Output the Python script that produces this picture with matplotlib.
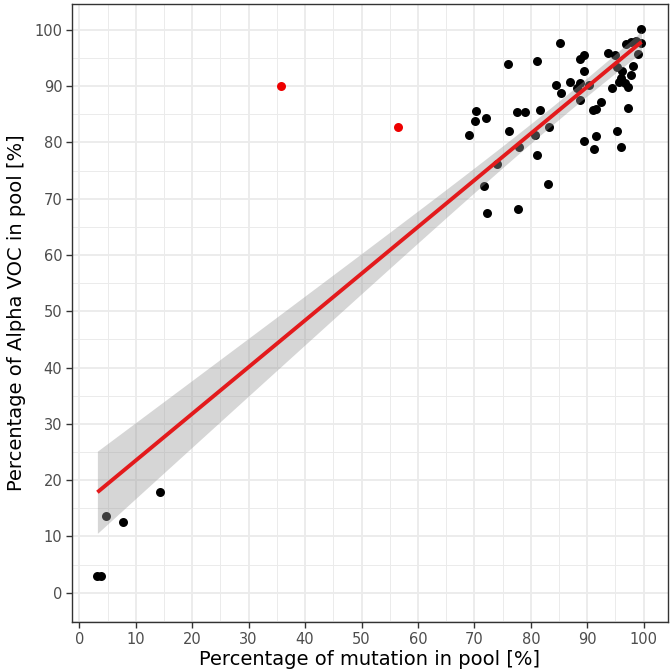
import numpy as np
import matplotlib
matplotlib.use("Agg")
import matplotlib.pyplot as plt

# Black points
x_mut = [3.2, 3.9, 4.8, 7.8, 14.3,
         69.1, 70.1, 70.3, 72.0, 71.7, 72.2, 74.0, 76.2, 75.9, 77.5, 78.9, 77.9, 77.7,
         80.8, 81.1, 81.1, 81.6, 83.2, 83.1, 84.5, 85.3, 85.1, 87.0, 88.1, 88.7, 88.7,
         88.7, 89.4, 89.4, 90.3, 89.4, 91.5, 91.2, 92.5, 91.6, 91.0, 93.6, 94.4, 94.9,
         95.2, 96.2, 95.2, 96.0, 95.7, 96.6, 97.2, 97.3, 96.0, 96.9, 97.8, 98.7, 99.6,
         99.0, 98.1, 97.8, 99.6]
y_voc = [3.0, 3.0, 13.6, 12.5, 17.9,
         81.4, 83.8, 85.6, 84.3, 72.2, 67.5, 76.1, 82.0, 93.9, 85.5, 85.5, 79.2, 68.2,
         81.4, 94.5, 77.7, 85.8, 82.7, 72.6, 90.2, 88.8, 97.6, 90.7, 89.6, 90.5, 87.5,
         94.8, 95.5, 92.7, 90.2, 80.2, 81.1, 78.8, 87.2, 86.0, 85.8, 95.9, 89.6, 95.5,
         93.4, 92.7, 82.0, 91.4, 90.8, 90.5, 89.9, 86.1, 79.2, 97.5, 97.8, 98.1, 97.7,
         95.8, 93.6, 92.0, 100.1]
# Red outliers
x_out = [35.8, 56.5]
y_out = [90.0, 82.7]

# Fitted regression
fit_intercept = 15.2
fit_slope = 0.83
ci_center_x = 88.0     # x where the confidence band is narrowest
ci_min_half = 1.6      # half-width there
ci_start_half = 7.3    # half-width at the lowest x

xticks = list(range(0, 101, 10))
yticks = list(range(0, 101, 10))
xlabel = "Percentage of mutation in pool [%]"
ylabel = "Percentage of Alpha VOC in pool [%]"

x = np.array(x_mut)
y = np.array(y_voc)
xs = np.linspace(x.min(), x.max(), 120)
yhat = fit_intercept + fit_slope * xs
k2 = (ci_start_half ** 2 - ci_min_half ** 2) / (x.min() - ci_center_x) ** 2
half = np.sqrt(ci_min_half ** 2 + k2 * (xs - ci_center_x) ** 2)
lo, hi = yhat - half, yhat + half

fig = plt.figure(figsize=(6.71, 6.71), dpi=100)
ax = fig.add_axes([0.1073, 0.073, 0.8882, 0.921])
ax.set_xlim(-1.3, 104.3)
ax.set_ylim(-5.2, 104.6)

ax.set_xticks(xticks)
ax.set_yticks(yticks)
ax.set_xticks(np.arange(5, 105, 10), minor=True)
ax.set_yticks(np.arange(-5, 105, 10), minor=True)
ax.grid(which="major", color="#EBEBEB", linewidth=1.3)
ax.grid(which="minor", color="#EBEBEB", linewidth=0.7)
ax.set_axisbelow(True)
ax.tick_params(which="minor", length=0)
ax.tick_params(which="major", length=4, width=1.0, color="#333333",
               labelsize=10.5, labelcolor="#4D4D4D", pad=3)
for sp in ax.spines.values():
    sp.set_color("#333333")
    sp.set_linewidth(1.0)

ax.scatter(x, y, s=42, color="black", linewidths=0, zorder=3)
ax.scatter(x_out, y_out, s=42, color="#EE0000", linewidths=0, zorder=3)
ax.fill_between(xs, lo, hi, color="#999999", alpha=0.4, linewidth=0, zorder=4)
ax.plot(xs, yhat, color="#E31A1C", linewidth=2.8, zorder=5, solid_capstyle="butt")

ax.set_xlabel(xlabel, fontsize=14, color="black", labelpad=2)
ax.set_ylabel(ylabel, fontsize=14, color="black", labelpad=6)

fig.savefig("out.png", dpi=100)
